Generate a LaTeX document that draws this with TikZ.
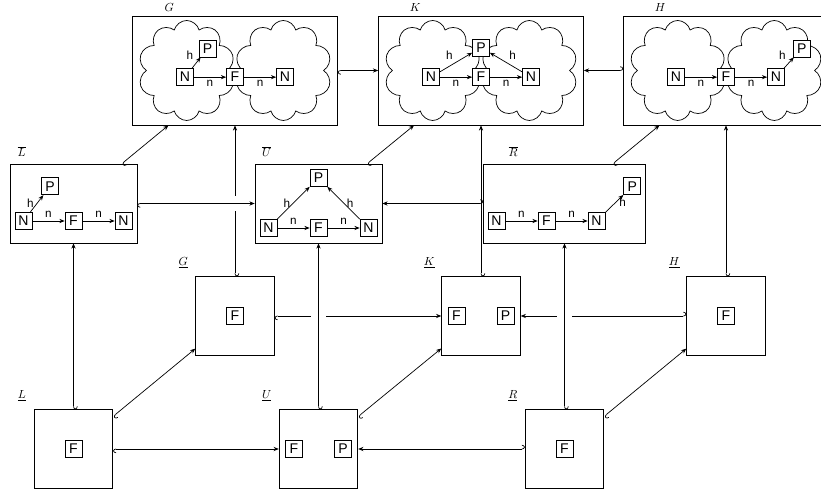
\documentclass[tikz,border=0pt]{standalone}
\usepackage{amsmath}
\usepackage{fontspec}
\setsansfont{Liberation Sans}
\usetikzlibrary{arrows.meta,positioning,shapes.symbols}
\tikzset{
  obj/.style={draw,minimum width=2.36cm,minimum height=2.36cm,inner sep=0pt},
  wide/.style={draw,minimum width=3.81cm,minimum height=2.37cm,inner sep=0pt},
  big/.style={draw,minimum width=6.15cm,minimum height=3.27cm,inner sep=0pt},
  blob/.style={cloud,draw,cloud puffs=10,aspect=1,minimum width=2.9cm,minimum height=3cm,inner sep=0pt},
  elt/.style={draw,fill=white,minimum size=14.5pt,inner sep=1pt,font=\sffamily\large},
  lab/.style={font=\sffamily,inner sep=2.5pt},
  lbl/.style={inner sep=0pt},
  mono/.style={{Hooks[left,width=7pt,length=2.5pt]}->},
  gap/.style={draw=white,line width=12pt,shorten <=1.5pt,shorten >=1.5pt},
}

\begin{document}
\begin{tikzpicture}[>={Stealth[length=4.5pt,width=3.6pt]},semithick,node distance=0.97cm]
  \useasboundingbox (0,0) rectangle (24.63,14.85);
  % bottom face
  \node[obj] (Lu) at (2.205,1.38) {};
  \node[obj] (Uu) at (9.555,1.38) {};
  \node[obj] (Ru) at (16.935,1.38) {};
  \node[obj] (Gu) at (7.05,5.37) {};
  \node[obj] (Ku) at (14.43,5.37) {};
  \node[obj] (Hu) at (21.78,5.37) {};
  % top face
  \node[wide] (Lb) at (2.205,8.745) {};
  \node[wide] (Ub) at (9.555,8.745) {};
  \node[wide,minimum width=4.86cm] (Rb) at (16.935,8.745) {};
  \node[big] (G) at (7.05,12.735) {};
  \node[big] (K) at (14.43,12.735) {};
  \node[big] (H) at (21.78,12.735) {};

  \node[lbl] (lLu) at ([shift={(-0.36,0.42)}]Lu.north west) {$\underline{L}$};
  \node[lbl] (lUu) at ([shift={(-0.36,0.42)}]Uu.north west) {$\underline{U}$};
  \node[lbl] (lRu) at ([shift={(-0.36,0.42)}]Ru.north west) {$\underline{R}$};
  \node[lbl] (lGu) at ([shift={(-0.36,0.42)}]Gu.north west) {$\underline{G}$};
  \node[lbl] (lKu) at ([shift={(-0.36,0.42)}]Ku.north west) {$\underline{K}$};
  \node[lbl] (lHu) at ([shift={(-0.36,0.42)}]Hu.north west) {$\underline{H}$};
  \node[lbl] (lLb) at ([shift={(0.36,0.36)}]Lb.north west) {$\overline{L}$};
  \node[lbl] (lUb) at ([shift={(0.36,0.36)}]Ub.north west) {$\overline{U}$};
  \node[lbl] (lRb) at ([shift={(0.9,0.36)}]Rb.north west) {$\overline{R}$};
  \node[lbl] (lG) at ([shift={(1.11,0.24)}]G.north west) {$G$};
  \node[lbl] (lK) at ([shift={(1.11,0.24)}]K.north west) {$K$};
  \node[lbl] (lH) at ([shift={(1.11,0.24)}]H.north west) {$H$};

  % small graphs, bottom face
  \node[elt] (Lu-f) at (Lu) {F};
  \node[elt] (Uu-f) at ([xshift=-0.735cm]Uu.center) {F};
  \node[elt] (Uu-p) at ([xshift=0.735cm]Uu.center) {P};
  \node[elt] (Ru-f) at (Ru) {F};
  \node[elt] (Gu-f) at (Gu) {F};
  \node[elt] (Ku-f) at ([xshift=-0.735cm]Ku.center) {F};
  \node[elt] (Ku-p) at ([xshift=0.735cm]Ku.center) {P};
  \node[elt] (Hu-f) at (Hu) {F};

  % L bar
  \node[elt] (Lb-f) at ([yshift=-0.525cm]Lb.center) {F};
  \node[elt,left=of Lb-f] (Lb-n1) {N};
  \node[elt,right=of Lb-f] (Lb-n2) {N};
  \node[elt,above right=0.51cm and 0.27cm of Lb-n1] (Lb-p) {P};
  \draw[->] (Lb-n1) -- node[lab,above] (Lb-a) {n} (Lb-f);
  \draw[->] (Lb-f) -- node[lab,above] (Lb-b) {n} (Lb-n2);
  \draw[->] (Lb-n1) -- node[lab,left] (Lb-c) {h} (Lb-p);

  % U bar
  \node[elt] (Ub-f) at ([yshift=-0.735cm]Ub.center) {F};
  \node[elt,left=of Ub-f] (Ub-n1) {N};
  \node[elt,right=of Ub-f] (Ub-n2) {N};
  \node[elt,above=of Ub-f] (Ub-p) {P};
  \draw[->] (Ub-n1) -- node[lab,above] (Ub-a) {n} (Ub-f);
  \draw[->] (Ub-f) -- node[lab,above] (Ub-b) {n} (Ub-n2);
  \draw[->] (Ub-n1) -- node[lab,left] (Ub-c) {h} (Ub-p);
  \draw[->] (Ub-n2) -- node[lab,right] (Ub-d) {h} (Ub-p);

  % R bar
  \node[elt] (Rb-f) at ([xshift=-0.54cm,yshift=-0.525cm]Rb.center) {F};
  \node[elt,left=of Rb-f] (Rb-n1) {N};
  \node[elt,right=of Rb-f] (Rb-n2) {N};
  \node[elt,above right=0.51cm and 0.54cm of Rb-n2] (Rb-p) {P};
  \draw[->] (Rb-n1) -- node[lab,above] (Rb-a) {n} (Rb-f);
  \draw[->] (Rb-f) -- node[lab,above] (Rb-b) {n} (Rb-n2);
  \draw[->] (Rb-n2) -- node[lab,right,pos=0.6] (Rb-c) {h} (Rb-p);

  % G
  \node[blob] (G-c1) at ([xshift=-1.45cm]G.center) {};
  \node[blob] (G-c2) at ([xshift=1.45cm]G.center) {};
  \node[elt] (G-f) at ([yshift=-0.2cm]G.center) {F};
  \node[elt,left=of G-f] (G-n1) {N};
  \node[elt,right=of G-f] (G-n2) {N};
  \node[elt,above right=0.33cm and 0.15cm of G-n1] (G-p) {P};
  \draw[->] (G-n1) -- node[lab,below] (G-a) {n} (G-f);
  \draw[->] (G-f) -- node[lab,below] (G-b) {n} (G-n2);
  \draw[->] (G-n1) -- node[lab,above left] (G-c) {h} (G-p);

  % K
  \node[blob] (K-c1) at ([xshift=-1.45cm]K.center) {};
  \node[blob] (K-c2) at ([xshift=1.45cm]K.center) {};
  \node[elt] (K-f) at ([yshift=-0.2cm]K.center) {F};
  \node[elt,left=of K-f] (K-n1) {N};
  \node[elt,right=of K-f] (K-n2) {N};
  \node[elt,above=0.36cm of K-f] (K-p) {P};
  \draw[->] (K-n1) -- node[lab,below] (K-a) {n} (K-f);
  \draw[->] (K-f) -- node[lab,below] (K-b) {n} (K-n2);
  \draw[->] (K-n1) -- node[lab,above left] (K-c) {h} (K-p);
  \draw[->] (K-n2) -- node[lab,above right] (K-d) {h} (K-p);

  % H
  \node[blob] (H-c1) at ([xshift=-1.45cm]H.center) {};
  \node[blob] (H-c2) at ([xshift=1.45cm]H.center) {};
  \node[elt] (H-f) at ([yshift=-0.2cm]H.center) {F};
  \node[elt,left=of H-f] (H-n1) {N};
  \node[elt,right=of H-f] (H-n2) {N};
  \node[elt,above right=0.33cm and 0.24cm of H-n2] (H-p) {P};
  \draw[->] (H-n1) -- node[lab,below] (H-a) {n} (H-f);
  \draw[->] (H-f) -- node[lab,below] (H-b) {n} (H-n2);
  \draw[->] (H-n2) -- node[lab,above left] (H-c) {h} (H-p);

  % morphisms
  \draw[mono] (Lu) -- (Uu);
  \draw[mono] (Ru) -- (Uu);
  \draw[mono] (Lu) -- (Gu);
  \draw[mono] (Uu) -- (Ku);
  \draw[mono] (Ru) -- (Hu);
  \draw[mono] (Lu) -- (Lb);
  \draw[mono] (Hu) -- (H);
  \draw[mono] (Lb) -- (G);
  \draw[mono] (Ub) -- (K);
  \draw[mono] (Rb) -- (H);
  \draw[mono] (G) -- (K);
  \draw[mono] (H) -- (K);
  % these pass behind
  \draw[mono] (Gu) -- (Ku);
  \draw[mono] (Hu) -- (Ku);
  \draw[mono] (Gu) -- (G);
  \draw[mono] (Ku) -- (K);
  % these pass in front
  \draw[gap] (Uu) -- (Ub);
  \draw[mono] (Uu) -- (Ub);
  \draw[gap] (Ru) -- (Rb);
  \draw[mono] (Ru) -- (Rb);
  \draw[gap] (Lb) -- (Ub);
  \draw[mono] (Lb) -- (Ub);
  \draw[gap] (Rb) -- (Ub);
  \draw[mono] (Rb) -- (Ub);
\end{tikzpicture}
\end{document}
